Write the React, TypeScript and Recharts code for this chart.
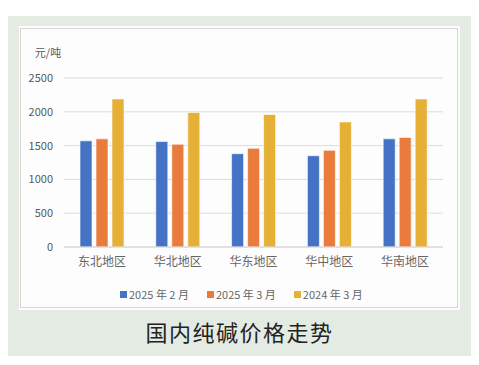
import { BarChart, Bar, XAxis, YAxis, CartesianGrid, Legend } from "recharts";

const regions = ["东北地区", "华北地区", "华东地区", "华中地区", "华南地区"];
const feb2025 = [1570, 1560, 1380, 1350, 1600];
const mar2025 = [1600, 1520, 1460, 1430, 1620];
const mar2024 = [2190, 1990, 1960, 1850, 2190];
const yTicks = [0, 500, 1000, 1500, 2000, 2500];

const seriesList = [
  { key: "feb2025", name: "2025 年 2 月", color: "#4472C4" },
  { key: "mar2025", name: "2025 年 3 月", color: "#E97C3D" },
  { key: "mar2024", name: "2024 年 3 月", color: "#E6AF36" },
];

const data = regions.map((r, i) => ({
  region: r,
  feb2025: feb2025[i],
  mar2025: mar2025[i],
  mar2024: mar2024[i],
}));

const font = "'Noto Sans CJK SC', 'Noto Sans', sans-serif";

function LegendBox() {
  return (
    <div
      style={{
        height: 31,
        boxSizing: "border-box",
        paddingTop: 3,
        paddingLeft: 100,
        display: "flex",
        alignItems: "center",
        fontFamily: font,
        fontSize: 11,
        color: "#666666",
        lineHeight: "16px",
      }}
    >
      {seriesList.map((s) => (
        <div key={s.key} style={{ display: "flex", alignItems: "center", marginRight: 18 }}>
          <span
            style={{
              display: "inline-block",
              width: 7,
              height: 7,
              background: s.color,
              marginRight: 2,
            }}
          />
          <span>{s.name}</span>
        </div>
      ))}
    </div>
  );
}

export default function App() {
  return (
    <div
      style={{
        position: "absolute",
        left: 0,
        top: 0,
        width: 479,
        height: 365,
        background: "#ffffff",
        overflow: "hidden",
      }}
    >
      <div
        style={{
          position: "absolute",
          left: 8,
          top: 16,
          width: 463,
          height: 340,
          background: "#e4ebe3",
        }}
      />
      <div
        style={{
          position: "absolute",
          left: 19,
          top: 26,
          width: 441,
          height: 284,
          background: "#fdfdfd",
        }}
      />
      <div style={{ position: "absolute", left: 20, top: 28 }}>
        <BarChart
          width={438}
          height={280}
          data={data}
          margin={{ top: 50, right: 15, left: 0, bottom: 0 }}
          barSize={12}
          barGap={4}
        >
          <CartesianGrid vertical={false} stroke="#dedbdb" />
          <XAxis
            dataKey="region"
            height={30}
            tickLine={false}
            tickSize={0}
            tickMargin={10}
            axisLine={{ stroke: "#d6d2d2" }}
            tick={{ fill: "#666666", fontSize: 12, fontFamily: font }}
          />
          <YAxis
            width={44}
            domain={[0, 2500]}
            ticks={yTicks}
            axisLine={false}
            tickLine={false}
            tickSize={0}
            tickMargin={11}
            tick={{ fill: "#595959", fontSize: 11, fontFamily: font }}
            label={{
              value: "元/吨",
              position: "top",
              offset: 21,
              dx: 6,
              fill: "#595959",
              fontSize: 11,
              fontFamily: font,
            }}
          />
          <Legend verticalAlign="bottom" content={<LegendBox />} />
          {seriesList.map((s) => (
            <Bar
              key={s.key}
              dataKey={s.key}
              name={s.name}
              fill={s.color}
              stroke="#ffffff"
              strokeOpacity={0.6}
              strokeWidth={1}
              isAnimationActive={false}
            />
          ))}
        </BarChart>
      </div>
      <div
        style={{
          position: "absolute",
          left: 20,
          top: 28,
          width: 438,
          height: 280,
          boxSizing: "border-box",
          border: "1px solid #dad4d4",
          pointerEvents: "none",
        }}
      />
      <div
        style={{
          position: "absolute",
          left: 0,
          top: 316,
          width: 479,
          textAlign: "center",
          fontFamily: font,
          fontSize: 22,
          letterSpacing: 1.5,
          color: "#222222",
          lineHeight: "30px",
        }}
      >
        国内纯碱价格走势
      </div>
    </div>
  );
}
